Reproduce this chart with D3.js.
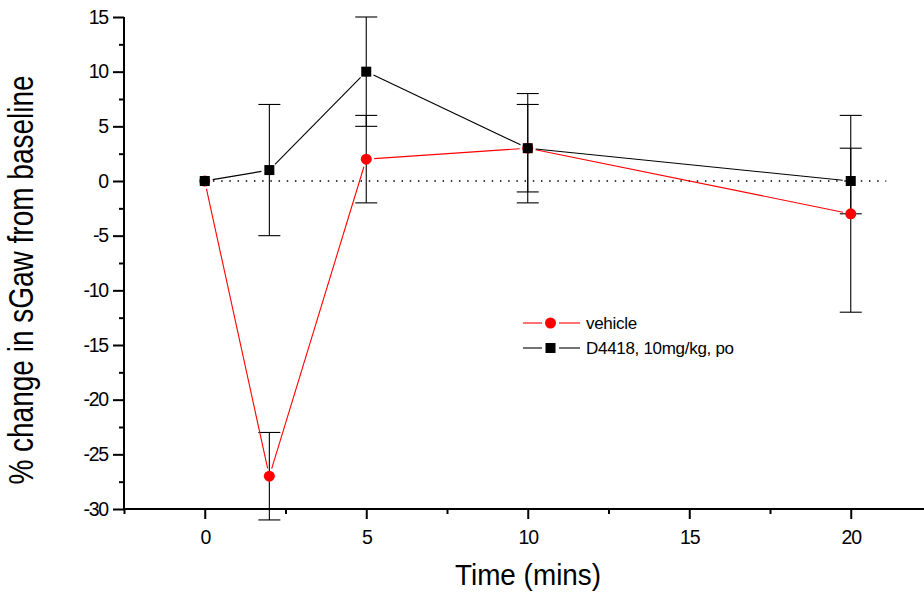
<!DOCTYPE html>
<html><head><meta charset="utf-8">
<script src="https://cdn.jsdelivr.net/npm/d3@7"></script>
<style>body{margin:0;background:#fff}svg{display:block}text{font-family:"Liberation Sans",Arial,sans-serif}</style>
</head><body>
<svg id="chart" width="924" height="594"></svg>
<script>
const times = [0, 2, 5, 10, 20];
const vehicleMean = [0, -27, 2, 3, -3];
const vehicleErr  = [0, 4, 4, 4, 9];
const drugMean = [0, 1, 10, 3, 0];
const drugErr  = [0, 6, 5, 5, 3];
const xMajorTicks = [0, 5, 10, 15, 20];
const xMinorTicks = [-2.5, 2.5, 7.5, 12.5, 17.5, 22.5];
const yMajorTicks = [15, 10, 5, 0, -5, -10, -15, -20, -25, -30];
const yMinorTicks = [12.5, 7.5, 2.5, -2.5, -7.5, -12.5, -17.5, -22.5, -27.5];
const seriesNames = ["vehicle", "D4418, 10mg/kg, po"];

const svg = d3.select("#chart");
const x = d3.scaleLinear().domain([-2.5, 22.5]).range([124, 931.5]);
const y = d3.scaleLinear().domain([-30, 15]).range([509, 17]);

// zero dotted reference line
svg.append("line").attr("x1", x(0)).attr("x2", x(21.1)).attr("y1", y(0)).attr("y2", y(0))
  .attr("stroke", "#000").attr("stroke-width", 1.4).attr("stroke-dasharray", "1.5,6.7");

// axes
const yAxis = svg.append("g").attr("transform", `translate(${x(-2.5)},0)`)
  .call(d3.axisLeft(y).tickValues(yMajorTicks).tickSize(11).tickPadding(5).tickFormat(d => String(d)));
const yMinor = svg.append("g").attr("transform", `translate(${x(-2.5)},0)`)
  .call(d3.axisLeft(y).tickValues(yMinorTicks).tickSize(5).tickFormat(""));
yMinor.select(".domain").remove();
const xAxis = svg.append("g").attr("transform", `translate(0,${y(-30)})`)
  .call(d3.axisBottom(x).tickValues(xMajorTicks).tickSize(10).tickPadding(11).tickFormat(d => String(d)));
const xMinor = svg.append("g").attr("transform", `translate(0,${y(-30)})`)
  .call(d3.axisBottom(x).tickValues(xMinorTicks).tickSize(5).tickFormat(""));
xMinor.select(".domain").remove();
svg.selectAll(".domain").attr("stroke-width", 2);
svg.selectAll(".tick line").attr("stroke-width", 2);
xAxis.select(".domain").attr("d", `M${x(-2.5)},0H924`);
yAxis.select(".domain").attr("d", `M0,${y(15)}V${y(-30)}`);
svg.selectAll(".tick text").attr("font-size", 19.5).attr("letter-spacing", -1.2)
  .attr("font-family", "Liberation Sans, Arial, sans-serif").attr("fill", "#000");

// axis titles
svg.append("text").attr("transform", "translate(528,585) scale(0.93,1)").attr("text-anchor", "middle")
  .attr("font-size", 30).text("Time (mins)");
svg.append("text").attr("transform", "translate(33,280) rotate(-90) scale(0.8,1)").attr("text-anchor", "middle")
  .attr("font-size", 35).text("% change in sGaw from baseline");

const series = [
  {name: seriesNames[0], mean: vehicleMean, err: vehicleErr, color: "#ff0000", shape: "circle"},
  {name: seriesNames[1], mean: drugMean, err: drugErr, color: "#000000", shape: "square"}
];
const capW = 11, gap = 8;

// error bars
series.forEach(s => {
  const g = svg.append("g").attr("stroke", "#000").attr("stroke-width", 1.1);
  times.forEach((t, i) => {
    if (!s.err[i]) return;
    const cx = x(t), lo = y(s.mean[i] - s.err[i]), hi = y(s.mean[i] + s.err[i]);
    g.append("line").attr("x1", cx).attr("x2", cx).attr("y1", hi).attr("y2", lo);
    g.append("line").attr("x1", cx - capW).attr("x2", cx + capW).attr("y1", hi).attr("y2", hi);
    g.append("line").attr("x1", cx - capW).attr("x2", cx + capW).attr("y1", lo).attr("y2", lo);
  });
});

function marker(g, shape, cx, cy, color) {
  if (shape === "circle") g.append("circle").attr("cx", cx).attr("cy", cy).attr("r", 5.5).attr("fill", color);
  else g.append("rect").attr("x", cx - 5).attr("y", cy - 5).attr("width", 10).attr("height", 10).attr("fill", color);
}

// lines with gaps around markers, then markers
series.forEach(s => {
  const g = svg.append("g");
  for (let i = 0; i < times.length - 1; i++) {
    const x1 = x(times[i]), y1 = y(s.mean[i]), x2 = x(times[i + 1]), y2 = y(s.mean[i + 1]);
    const L = Math.hypot(x2 - x1, y2 - y1), ux = (x2 - x1) / L, uy = (y2 - y1) / L;
    g.append("line").attr("x1", x1 + ux * gap).attr("y1", y1 + uy * gap)
      .attr("x2", x2 - ux * gap).attr("y2", y2 - uy * gap)
      .attr("stroke", s.color).attr("stroke-width", 1.1);
  }
  times.forEach((t, i) => marker(g, s.shape, x(t), y(s.mean[i]), s.color));
});

// legend
const leg = svg.append("g");
series.forEach((s, i) => {
  const ly = 323 + i * 25;
  leg.append("line").attr("x1", 523).attr("x2", 542).attr("y1", ly).attr("y2", ly).attr("stroke", s.color).attr("stroke-width", 1.1);
  leg.append("line").attr("x1", 559).attr("x2", 580).attr("y1", ly).attr("y2", ly).attr("stroke", s.color).attr("stroke-width", 1.1);
  marker(leg, s.shape, 550.5, ly, s.color);
  leg.append("text").attr("x", 586).attr("y", ly + 6).attr("font-size", 17).attr("letter-spacing", -0.3).text(s.name);
});
</script>
</body></html>
